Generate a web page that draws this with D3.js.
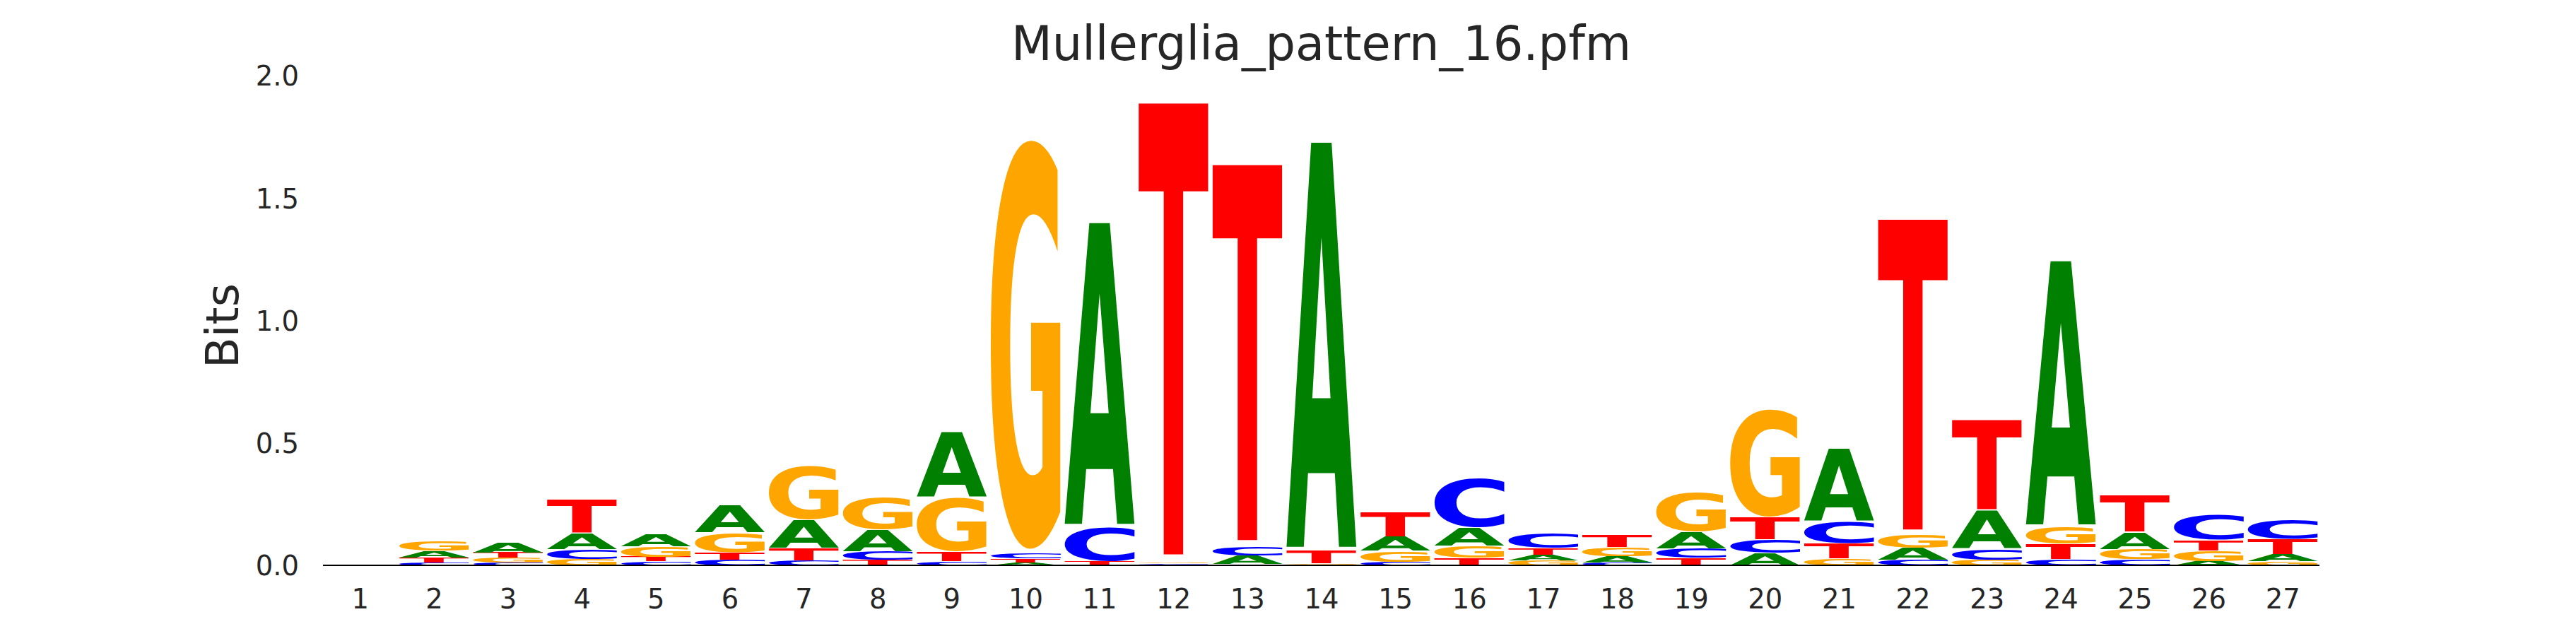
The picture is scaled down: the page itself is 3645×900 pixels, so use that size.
<!DOCTYPE html>
<html>
<head>
<meta charset="utf-8">
<script src="https://cdn.jsdelivr.net/npm/d3@7/dist/d3.min.js"></script>
<style>
  html, body { margin: 0; padding: 0; background: #ffffff; }
  svg { display: block; }
</style>
</head>
<body>
<script>
// ---------------- DATA ----------------
const chartTitle = "Mullerglia_pattern_16.pfm";
const yAxisLabel = "Bits";
const positions = [1,2,3,4,5,6,7,8,9,10,11,12,13,14,15,16,17,18,19,20,21,22,23,24,25,26,27];
// information (bits) carried by each base at each position
const bitsA = [0, 0.028, 0.041, 0.064, 0.051, 0.112, 0.114, 0.087, 0.267, 0.012, 1.255, 0.004, 0.035, 1.686,
               0.058, 0.073, 0.024, 0.025, 0.067, 0.050, 0.298, 0.048, 0.156, 1.098, 0.070, 0.017, 0.029];
const bitsC = [0, 0.012, 0.011, 0.039, 0.016, 0.023, 0.019, 0.035, 0.016, 0.021, 0.140, 0.0045, 0.037, 0.003,
               0.014, 0.204, 0.060, 0.012, 0.038, 0.054, 0.089, 0.022, 0.045, 0.024, 0.024, 0.102, 0.079];
const bitsG = [0, 0.039, 0.019, 0.026, 0.042, 0.081, 0.222, 0.130, 0.222, 1.708, 0.003, 0.005, 0.005, 0.004,
               0.045, 0.048, 0.019, 0.036, 0.164, 0.449, 0.029, 0.055, 0.022, 0.070, 0.043, 0.042, 0.017];
const bitsT = [0, 0.020, 0.022, 0.140, 0.018, 0.030, 0.051, 0.023, 0.038, 0.016, 0.014, 1.894, 1.575, 0.052,
               0.102, 0.031, 0.026, 0.050, 0.031, 0.091, 0.061, 1.301, 0.375, 0.0625, 0.151, 0.044, 0.060];
const bases = ["A", "C", "G", "T"];
const baseColors = ["#008000", "#0000ff", "#ffa500", "#ff0000"];
const yTicks = [0, 0.5, 1.0, 1.5, 2.0];
const yTickLabels = ["0.0", "0.5", "1.0", "1.5", "2.0"];
const yDomain = [0, 2];

// ---------------- LAYOUT ----------------
const W = 3645, H = 900;
const plot = { left: 457, right: 3282, top: 107, bottom: 800 };
const letterWidth = 0.95;
const vpad = 0.02;
const textColor = "#262626";
const fontFamily = "'DejaVu Sans', 'Liberation Sans', sans-serif";

const svg = d3.select("body").append("svg")
  .attr("width", W).attr("height", H)
  .attr("viewBox", `0 0 ${W} ${H}`);

const x = d3.scaleLinear().domain([0.5, positions.length + 0.5]).range([plot.left, plot.right]);
const y = d3.scaleLinear().domain(yDomain).range([plot.bottom, plot.top]);

// glyph ink metrics via canvas
const canvas = document.createElement("canvas");
const ctx = canvas.getContext("2d");
const glyphFontSize = 200;
ctx.font = `bold ${glyphFontSize}px 'DejaVu Sans'`;
const metrics = {};
bases.forEach(b => {
  const m = ctx.measureText(b);
  metrics[b] = { L: m.actualBoundingBoxLeft, R: m.actualBoundingBoxRight,
                 A: m.actualBoundingBoxAscent, D: m.actualBoundingBoxDescent };
});

// build stacks (small at bottom, big on top)
const series = [bitsA, bitsC, bitsG, bitsT];
const glyphs = [];
positions.forEach((p, i) => {
  const col = bases.map((b, k) => ({ base: b, color: baseColors[k], h: series[k][i] }))
    .filter(d => d.h > 0)
    .sort((a, b) => a.h - b.h);
  let cum = 0;
  col.forEach(d => {
    glyphs.push({ pos: p, base: d.base, color: d.color, y0: cum, y1: cum + d.h });
    cum += d.h;
  });
});

const gLetters = svg.append("g").attr("class", "letters");
gLetters.selectAll("text").data(glyphs).enter().append("text")
  .text(d => d.base)
  .attr("font-family", "'DejaVu Sans'")
  .attr("font-weight", "bold")
  .attr("font-size", glyphFontSize)
  .attr("fill", d => d.color)
  .attr("transform", d => {
    const m = metrics[d.base];
    const x0 = x(d.pos - letterWidth / 2), x1 = x(d.pos + letterWidth / 2);
    const hh = d.y1 - d.y0;
    const yt = y(d.y1 - hh * vpad / 2), yb = y(d.y0 + hh * vpad / 2);
    const sx = (x1 - x0) / (m.L + m.R);
    const sy = (yb - yt) / (m.A + m.D);
    return `translate(${x0 + m.L * sx},${yt + m.A * sy}) scale(${sx},${sy})`;
  });

// baseline
svg.append("line")
  .attr("x1", plot.left).attr("x2", plot.right)
  .attr("y1", y(0)).attr("y2", y(0))
  .attr("stroke", "#000").attr("stroke-width", 2);

// y axis (labels only)
const yAxis = d3.axisLeft(y).tickValues(yTicks)
  .tickFormat((d, i) => yTickLabels[i]).tickSize(0).tickPadding(34);
const gy = svg.append("g").attr("transform", `translate(${plot.left},0)`).call(yAxis);
gy.select(".domain").remove();
gy.selectAll("text").attr("font-family", fontFamily).attr("font-size", 38.5)
  .attr("fill", textColor).attr("dy", "0.36em");

// x axis (labels only)
const xAxis = d3.axisBottom(x).tickValues(positions).tickFormat(d3.format("d"))
  .tickSize(0).tickPadding(0);
const gx = svg.append("g").attr("transform", `translate(0,${plot.bottom})`).call(xAxis);
gx.select(".domain").remove();
gx.selectAll("text").attr("font-family", fontFamily).attr("font-size", 38.5)
  .attr("fill", textColor).attr("dy", null).attr("y", 61);

// axis title
svg.append("text")
  .attr("transform", `translate(337,461) rotate(-90)`)
  .attr("text-anchor", "middle")
  .attr("font-family", fontFamily).attr("font-size", 64)
  .attr("fill", textColor).text(yAxisLabel);

// chart title
svg.append("text")
  .attr("x", (plot.left + plot.right) / 2).attr("y", 85)
  .attr("text-anchor", "middle")
  .attr("font-family", fontFamily).attr("font-size", 67)
  .attr("fill", textColor).text(chartTitle);
</script>
</body>
</html>
